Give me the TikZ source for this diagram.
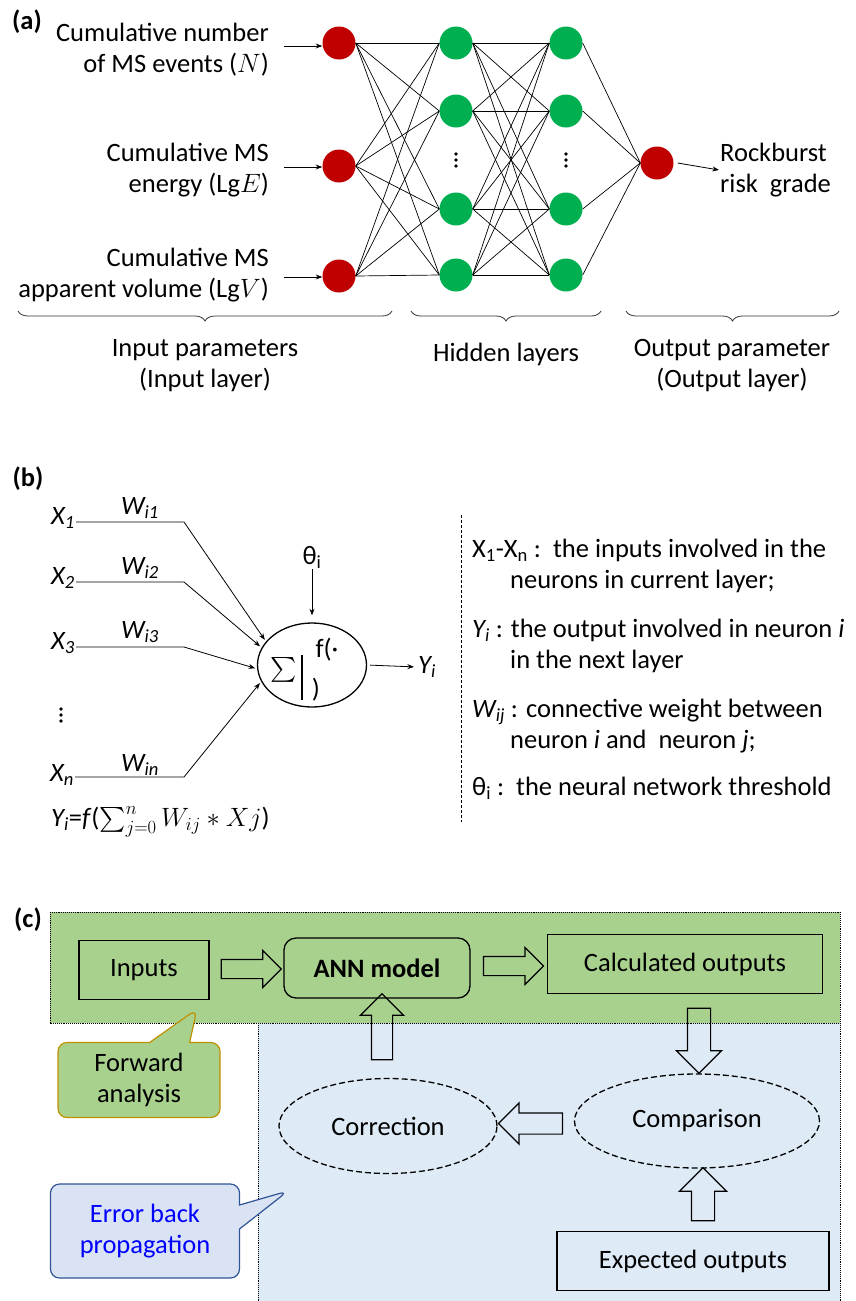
\RequirePackage{fix-cm}
\documentclass[tikz,border=0pt]{standalone}
\usepackage{amsmath}
\usepackage{exscale}
\usepackage{fontspec}
\setmainfont{Carlito}
\usetikzlibrary{arrows.meta,positioning,calc,shapes.geometric,shapes.arrows,shapes.callouts,decorations.pathreplacing}

\definecolor{redneuron}{HTML}{C00000}
\definecolor{greenneuron}{HTML}{00B050}
\definecolor{fwdfill}{HTML}{A9D18E}
\definecolor{backfill}{HTML}{DEEBF7}
\definecolor{ebpfill}{HTML}{DAE3F3}
\definecolor{ebpline}{HTML}{2F5597}
\definecolor{fwdline}{HTML}{BF9000}

\tikzset{
  neuron/.style={circle, minimum size=33pt, inner sep=0pt},
  inn/.style={neuron, fill=redneuron},
  hid/.style={neuron, fill=greenneuron},
  link/.style={line width=0.7pt},
  arr/.style={-Stealth, line width=0.8pt},
  txt/.style={inner sep=1pt},
  brc/.style={decorate, decoration={brace, mirror, amplitude=10pt}, line width=0.8pt, draw=black!80},
  box/.style={draw, line width=1.3pt, txt},
  ell/.style={ellipse, draw, line width=1.3pt, dash pattern=on 6pt off 3pt, txt},
  blk/.style args={#1/#2}{single arrow, draw, line width=1.2pt, inner xsep=0pt, inner ysep=#1,
    single arrow head extend=#2, minimum width=0pt}
}

\begin{document}
\begin{tikzpicture}[x=1pt, y=-1pt, font=\fontsize{26.5}{31}\selectfont]
  \useasboundingbox (0,0) rectangle (856,1301);

  % (a) network
  \node[txt] (taga) at (27,22) {\textbf{(a)}};

  \node[inn] (in1) at (339,43) {};
  \node[inn] (in2) at (339,166) {};
  \node[inn] (in3) at (339,276) {};

  \node[hid] (ha1) at (456,43) {};
  \node[hid] (ha2) at (456,111) {};
  \node[hid] (ha3) at (456,209) {};
  \node[hid] (ha4) at (456,275) {};

  \node[hid] (hb1) at (566,43) {};
  \node[hid] (hb2) at (566,111) {};
  \node[hid] (hb3) at (566,209) {};
  \node[hid] (hb4) at (566,275) {};

  \node[inn] (out) at (657,163) {};

  \foreach \d in {-6,0,6} {
    \fill (456,160+\d) circle (1.9pt);
    \fill (566,160+\d) circle (1.9pt);
  }

  \foreach \i in {1,2,3}
    \foreach \j in {1,...,4}
      \draw[link] (in\i.east) -- (ha\j.west);
  \foreach \i in {1,...,4}
    \foreach \j in {1,...,4}
      \draw[link] (ha\i.east) -- (hb\j.west);
  \foreach \i in {1,...,4}
    \draw[link] (hb\i.east) -- (out.west);

  \node[txt, anchor=east, align=right] (lab1) at (270,50) {Cumulative number\\of MS events ($N$)};
  \node[txt, anchor=east, align=right] (lab2) at (270,170) {Cumulative MS\\energy (Lg$E$)};
  \node[txt, anchor=east, align=right] (lab3) at (270,275) {Cumulative MS\\apparent volume (Lg$V$)};

  \draw[arr] ([xshift=-38pt, yshift=-3pt]in1.west) -- ([yshift=-3pt]in1.west);
  \draw[arr] ([xshift=-38pt, yshift=-1pt]in2.west) -- ([yshift=-1pt]in2.west);
  \draw[arr] ([xshift=-38pt, yshift=-1pt]in3.west) -- ([yshift=-1pt]in3.west);

  \node[txt, anchor=west, align=left] (rock) at (719,170) {Rockburst\\risk\ \ grade};
  \draw[arr] ([xshift=4pt]out.east) -- (rock.west);

  \draw[brc] (18,311) -- (392,311);
  \draw[brc] (411,311) -- (601,311);
  \draw[brc] (626,311) -- (839,311);

  \node[txt, align=center] (inlab) at (205,366) {Input parameters\\(Input layer)};
  \node[txt] (hidlab) at (506,354) {Hidden layers};
  \node[txt, align=center] (outlab) at (732,366) {Output parameter\\(Output layer)};

  % (b) single neuron
  \node[txt] (tagb) at (28,479) {\textbf{(b)}};

  \node[ellipse, draw, line width=1.3pt, minimum width=109pt, minimum height=84pt] (neu) at (312,665) {};
  \node[txt] (sig) at (284,670) {$\sum$};
  \draw[line width=1.8pt] (302,655) -- (302,700);
  \node[txt] (fpt) at (327,650) {f(·};
  \node[txt] (fpr) at (316,690) {)};

  \node[txt] (x1) at (63,518) {\textit{X\textsubscript{1}}};
  \node[txt] (x2) at (63,578) {\textit{X\textsubscript{2}}};
  \node[txt] (x3) at (63,643) {\textit{X\textsubscript{3}}};
  \node[txt] (xn) at (62,775) {\textit{X\textsubscript{n}}};
  \foreach \d in {-6,0,6}
    \fill (61,715+\d) circle (1.9pt);

  \node[txt] (w1) at (140,508) {\textit{W\textsubscript{i1}}};
  \node[txt] (w2) at (140,568) {\textit{W\textsubscript{i2}}};
  \node[txt] (w3) at (140,632) {\textit{W\textsubscript{i3}}};
  \node[txt] (wn) at (140,765) {\textit{W\textsubscript{in}}};

  \coordinate (kn) at (184,0);
  \draw[arr, shorten >=2pt] ([yshift=-4pt]x1.east) -- ([yshift=-4pt]x1.east -| kn) -- (neu.153);
  \draw[arr, shorten >=2pt] ([yshift=-4pt]x2.east) -- ([yshift=-4pt]x2.east -| kn) -- (neu.161);
  \draw[arr, shorten >=2pt] ([yshift=-4pt]x3.east) -- ([yshift=-4pt]x3.east -| kn) -- (neu.184);
  \draw[arr, shorten >=2pt] ([yshift=-2pt]xn.east) -- ([yshift=-2pt]xn.east -| kn) -- (neu.198);

  \node[txt] (theta) at (312,557) {θ\textsubscript{i}};
  \draw[arr, shorten >=7pt] (theta.south) -- (neu.north);
  \node[txt] (yi) at (427,667) {\textit{Y\textsubscript{i}}};
  \draw[arr, shorten <=3pt, shorten >=3pt] (neu.east) -- (yi.west);

  \node[txt, anchor=west] (form) at (50,822) {\textit{Y\textsubscript{i}}=\textit{f}($\sum_{j=0}^{n} W_{ij} * Xj$)};

  \draw[densely dashed, line width=0.6pt] (461,515) -- (461,822);

  \node[txt, anchor=west, align=left] (def1) at (471,566) {X\textsubscript{1}-X\textsubscript{n} :\ \ the inputs involved in the\\\hspace*{38pt}neurons in current layer;};
  \node[txt, anchor=west, align=left] (def2) at (471,646) {\textit{Y\textsubscript{i}} : the output involved in neuron \textit{i}\\\hspace*{38pt}in the next layer};
  \node[txt, anchor=west, align=left] (def3) at (471,726) {\textit{W\textsubscript{ij}} : connective weight between\\\hspace*{38pt}neuron \textit{i} and\ \ neuron \textit{j};};
  \node[txt, anchor=west, align=left] (def4) at (471,788) {θ\textsubscript{i} :\ \ the neural network threshold};

  % (c) training loop
  \fill[backfill] (258,1023) rectangle (840,1301);
  \fill[fwdfill] (50,912) rectangle (840,1023);
  \draw[densely dotted, line width=0.9pt] (50,912) rectangle (840,1023);
  \draw[densely dotted, line width=0.9pt] (258,1023) -- (258,1301);
  \draw[densely dotted, line width=0.9pt] (840,1023) -- (840,1301);

  \node[txt] (tagc) at (28,920) {\textbf{(c)}};

  \node[box, minimum width=130pt, minimum height=59pt] (inp) at (144,970) {Inputs};
  \node[box, rounded corners=12pt, minimum width=186pt, minimum height=60pt] (ann) at (377,968) {\textbf{ANN model}};
  \node[box, minimum width=275pt, minimum height=59pt] (calc) at (685,964) {Calculated outputs};
  \node[ell, minimum width=218pt, minimum height=95pt] (corr) at (388,1126) {Correction};
  \node[ell, minimum width=245pt, minimum height=94pt] (comp) at (697,1121) {Comparison};
  \node[box, minimum width=272pt, minimum height=59pt] (expo) at (693,1261) {Expected outputs};

  \node[blk=9pt/9pt, minimum height=60pt] (a1) at ($(inp.east)!0.5!(ann.west)$) {};
  \node[blk=9pt/9pt, minimum height=60pt] (a2) at ($(ann.east)!0.5!(calc.west)$) {};
  \node[blk=11pt/11pt, minimum height=65pt, rotate=-90] (a3) at (699,1035) {};
  \node[blk=10pt/10pt, minimum height=64pt, rotate=180] (a4) at ($(comp.west)!0.5!(corr.east)$) {};
  \node[blk=10pt/11pt, minimum height=66pt, rotate=90] (a5) at (382,1032) {};
  \node[blk=11pt/12pt, minimum height=53pt, rotate=90] (a6) at (703,1200) {};

  \coordinate (fwdtip) at (197,1009);
  \coordinate (ebptip) at (288,1191);
  \node[rectangle callout, rounded corners=9pt, draw=fwdline, fill=fwdfill, line width=1.2pt,
        minimum width=162pt, minimum height=75pt, align=center,
        callout absolute pointer={(fwdtip)}, callout pointer width=40pt] (fwd) at (139,1080) {Forward\\analysis};
  \node[rectangle callout, rounded corners=9pt, draw=ebpline, fill=ebpfill, line width=1.2pt, text=blue,
        minimum width=189pt, minimum height=94pt, align=center,
        callout absolute pointer={(ebptip)}, callout pointer width=24pt] (ebp) at (145,1231) {Error back\\propagation};
\end{tikzpicture}
\end{document}
